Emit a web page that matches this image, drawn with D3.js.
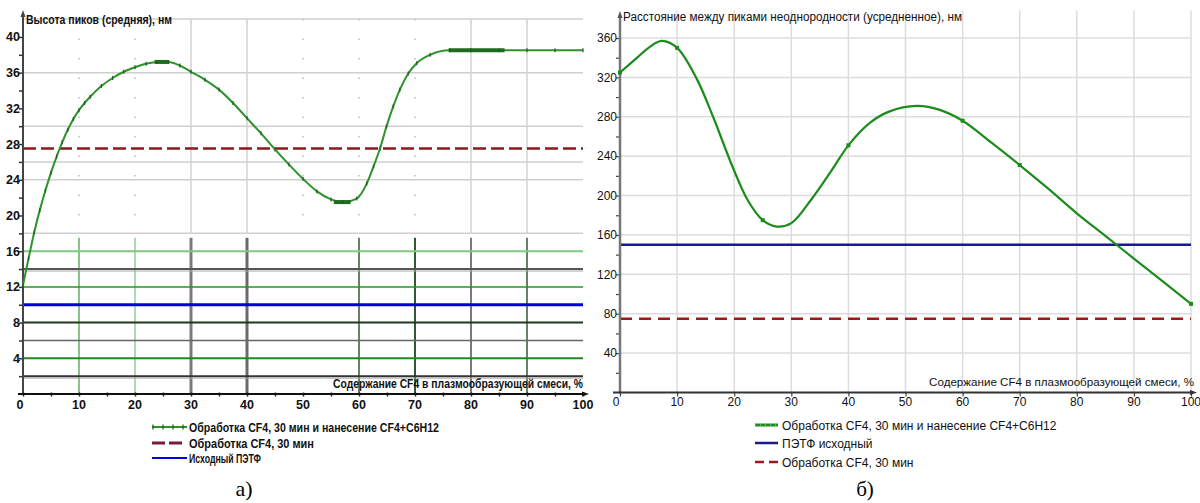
<!DOCTYPE html>
<html><head><meta charset="utf-8">
<script src="https://cdn.jsdelivr.net/npm/d3@7"></script>
<style>
html,body{margin:0;padding:0;background:#fff;}
svg{display:block;}
.ln{font-family:"Liberation Sans Narrow","Liberation Sans",Arial,sans-serif;font-weight:bold;}
.rn{font-family:"Liberation Sans",Arial,sans-serif;}
.cap{font-family:"Liberation Serif","Times New Roman",serif;}
</style></head>
<body>
<svg id="c" width="1200" height="503"></svg>
<script>
// ---------- DATA ----------
// Left chart (а): average peak height, nm
const leftX = [0,1,2,3,4,5,6,7,8,9,10,11,12,14,16,18,20,22,24,26,28,30,32.5,35,37.5,40,42.5,45,47.5,50,52.5,55,57.2,59.6,61.4,62.6,63.75,64.9,66.1,67.3,68.8,70.3,72.7,76.2,80,85,90,95,100];
const leftY = [12.2,15.2,18.1,20.6,22.8,24.8,26.6,28.2,29.6,30.8,31.8,32.6,33.3,34.5,35.4,36.1,36.6,37.0,37.2,37.2,36.8,36.1,35.2,34.1,32.6,30.9,29.2,27.4,25.7,24.1,22.7,21.8,21.5,21.9,23.6,25.5,27.5,29.95,32.2,34.1,35.9,37.05,38.0,38.5,38.5,38.5,38.5,38.5,38.5];
const leftThick = [[23.5,26],[55.5,58.5],[76,86]];
const leftDashed = 27.5;   // Обработка CF4, 30 мин
const leftBase = 10.0;     // Исходный ПЭТФ
const leftXTicks = [0,10,20,30,40,50,60,70,80,90,100];
const leftYTicks = [4,8,12,16,20,24,28,32,36,40];
const leftUpperGridY = [42,36,30,26,24,18];
const leftUpperGridX = [30,40,80,90];
const leftLowerGridX = [10,20,30,40,60,70,80,90];
const leftLowerGridY = [16,14,12,8,6,4,2];
const leftLegend = ["Обработка CF4, 30 мин и нанесение CF4+C6H12","Обработка CF4, 30 мин","Исходный ПЭТФ"];

// Right chart (б): average distance between peaks, nm
const rightX = [0,3,5,7.3,10,13.4,16.3,19.8,22.4,25,27.4,30,33.5,37,40,43.8,47,52,56,60,65,70,75,80,85,90,95,100];
const rightY = [325,340,350,357,350,319,280,228,195,175,168.5,172,196,225,251,274,285,291,287,276,254,231,207,182,159,136,113,90];
const rightMarkX = [0,10,25,40,60,70,100];
const rightBase = 150;     // ПЭТФ исходный
const rightDashed = 75;    // Обработка CF4, 30 мин
const rightXTicks = [0,10,20,30,40,50,60,70,80,90,100];
const rightYTicks = [40,80,120,160,200,240,280,320,360];
const rightLegend = ["Обработка CF4, 30 мин и нанесение CF4+C6H12","ПЭТФ исходный","Обработка CF4, 30 мин"];

const xTitle = "Содержание CF4 в плазмообразующей смеси, %";
const leftYTitle = "Высота пиков (средняя), нм";
const rightYTitle = "Расстояние между пиками неоднородности (усредненное), нм";

// ---------- DRAW ----------
const svg = d3.select("#c");

// ===== LEFT =====
{
  const x = d3.scaleLinear().domain([0,100]).range([23,583]);
  const y = d3.scaleLinear().domain([0,42]).range([394,19.1]);
  const g = svg.append("g");
  g.selectAll(".ugy").data(leftUpperGridY).join("line")
    .attr("x1",x(0)).attr("x2",x(100)).attr("y1",d=>y(d)).attr("y2",d=>y(d))
    .attr("stroke","#cfcfcf").attr("stroke-width",1.5);
  g.selectAll(".ugx").data(leftUpperGridX).join("line")
    .attr("x1",d=>x(d)).attr("x2",d=>x(d)).attr("y1",y(42)).attr("y2",y(18))
    .attr("stroke","#d2d2d2").attr("stroke-width",1.5);
  g.selectAll(".udot").data([10,20,50,60,70]).join("line")
    .attr("x1",d=>x(d)).attr("x2",d=>x(d)).attr("y1",y(42)).attr("y2",y(18))
    .attr("stroke","#bbb").attr("stroke-width",1.5).attr("stroke-dasharray","1.5,18");
  const vStyle = {10:["#3d9a3d",1.2],20:["#93cf93",1.5],30:["#7a7a7a",3],40:["#6a6a6a",3],60:["#2f5a2f",1.5],70:["#2f5a2f",2],80:["#7a7a7a",2],90:["#2f5a2f",1.5]};
  g.selectAll(".lgx").data(leftLowerGridX).join("line")
    .attr("x1",d=>x(d)).attr("x2",d=>x(d)).attr("y1",y(17.5)).attr("y2",y(0))
    .attr("stroke",d=>vStyle[d][0]).attr("stroke-width",d=>vStyle[d][1]);
  const hStyle = {16:["#7fc97f",2],14:["#555",2],12:["#229922",1.5],8:["#1e3a1e",2],6:["#666",1.5],4:["#228822",2],2:["#333",2]};
  g.selectAll(".lgy").data(leftLowerGridY).join("line")
    .attr("x1",x(0)).attr("x2",x(100)).attr("y1",d=>y(d)).attr("y2",d=>y(d))
    .attr("stroke",d=>hStyle[d][0]).attr("stroke-width",d=>hStyle[d][1]);
  g.selectAll(".lgy2").data([14,2]).join("line")
    .attr("x1",x(0)).attr("x2",x(100)).attr("y1",d=>y(d)+2).attr("y2",d=>y(d)+2)
    .attr("stroke","#aaa").attr("stroke-width",1);

  g.append("line").attr("x1",x(0)).attr("x2",x(100)).attr("y1",y(leftBase)).attr("y2",y(leftBase))
    .attr("stroke","#0000dd").attr("stroke-width",3);
  g.append("line").attr("x1",x(0)).attr("x2",x(100)).attr("y1",y(leftDashed)).attr("y2",y(leftDashed))
    .attr("stroke","#8b1a1a").attr("stroke-width",2.5).attr("stroke-dasharray","13,5");

  const yAx = d3.axisLeft(y).tickValues(d3.range(2,42,2)).tickSize(4).tickFormat("");
  g.append("g").attr("transform",`translate(${x(0)},0)`).call(yAx)
    .call(s=>s.select(".domain").remove())
    .call(s=>s.selectAll("line").attr("stroke","#333").attr("stroke-width",1.5));
  g.append("line").attr("x1",x(0)).attr("x2",x(0)).attr("y1",14).attr("y2",y(0))
    .attr("stroke","#444").attr("stroke-width",2);
  g.append("path").attr("d",`M${x(0)-2.5},${17} L${x(0)},${10} L${x(0)+2.5},${17}Z`).attr("fill","#444");
  const xAx = d3.axisBottom(x).tickValues(d3.range(0,101,5)).tickSize(4).tickFormat("");
  g.append("g").attr("transform",`translate(0,${y(0)-1.5})`).call(xAx)
    .call(s=>s.select(".domain").remove())
    .call(s=>s.selectAll("line").attr("stroke","#222").attr("stroke-width",1.5));
  g.append("line").attr("x1",18).attr("x2",586).attr("y1",y(0)).attr("y2",y(0))
    .attr("stroke","#111").attr("stroke-width",2);
  g.append("path").attr("d",`M${582},${y(0)-2.5} L${589},${y(0)} L${582},${y(0)+2.5}Z`).attr("fill","#111");

  g.selectAll(".xtl").data(leftXTicks).join("text").attr("class","ln")
    .attr("x",d=>d===0?x(d)-3:x(d)).attr("y",409).attr("text-anchor","middle")
    .attr("font-size",12.5).attr("fill","#111").text(d=>d);
  g.selectAll(".ytl").data(leftYTicks).join("text").attr("class","ln")
    .attr("x",20).attr("y",d=>y(d)+4.5).attr("text-anchor","end")
    .attr("font-size",12.5).attr("fill","#111").text(d=>d);

  g.append("text").attr("class","ln").attr("x",26).attr("y",24).attr("font-size",12)
    .attr("textLength",146).attr("lengthAdjust","spacingAndGlyphs").attr("fill","#111").text(leftYTitle);
  g.append("text").attr("class","ln").attr("x",333).attr("y",388).attr("font-size",12.5)
    .attr("textLength",250).attr("lengthAdjust","spacingAndGlyphs").attr("fill","#111").text(xTitle);

  const pts = leftX.map((v,i)=>[v,leftY[i]]);
  const line = d3.line().x(d=>x(d[0])).y(d=>y(d[1])).curve(d3.curveMonotoneX);
  g.append("path").attr("d",line(pts)).attr("fill","none").attr("stroke","#2f922f").attr("stroke-width",2);
  leftThick.forEach(([a,b])=>{
    const sub = pts.filter(p=>p[0]>=a&&p[0]<=b);
    g.append("path").attr("d",d3.line().x(d=>x(d[0])).y(d=>y(d[1])).curve(d3.curveMonotoneX)([[a,sub[0][1]],...sub,[b,sub[sub.length-1][1]]]))
     .attr("fill","none").attr("stroke","#1f6b1f").attr("stroke-width",4);
  });
  g.selectAll(".mk").data(pts).join("line")
    .attr("x1",d=>x(d[0])).attr("x2",d=>x(d[0])).attr("y1",d=>y(d[1])-2).attr("y2",d=>y(d[1])+2)
    .attr("stroke","#1f5f1f").attr("stroke-width",1.2);

  const L = svg.append("g");
  const ly = [427,443,458];
  L.append("line").attr("x1",152).attr("x2",187).attr("y1",ly[0]).attr("y2",ly[0]).attr("stroke","#2f922f").attr("stroke-width",2);
  L.selectAll(".lm").data([153,163,173,183]).join("line").attr("x1",d=>d).attr("x2",d=>d)
    .attr("y1",ly[0]-2.5).attr("y2",ly[0]+2.5).attr("stroke","#1f6b1f").attr("stroke-width",1.3);
  L.append("line").attr("x1",152).attr("x2",185).attr("y1",ly[1]).attr("y2",ly[1]).attr("stroke","#7a1a3a").attr("stroke-width",3).attr("stroke-dasharray","13,4");
  L.append("line").attr("x1",152).attr("x2",187).attr("y1",ly[2]).attr("y2",ly[2]).attr("stroke","#0000dd").attr("stroke-width",2);
  const lw = [250,125,72];
  L.selectAll(".lt").data(leftLegend).join("text").attr("class","ln")
    .attr("x",189).attr("y",(d,i)=>ly[i]+4.5).attr("font-size",12)
    .attr("textLength",(d,i)=>lw[i]).attr("lengthAdjust","spacingAndGlyphs").attr("fill","#111").text(d=>d);
  svg.append("text").attr("class","cap").attr("x",244).attr("y",496).attr("text-anchor","middle")
    .attr("font-size",22).attr("fill","#000").text("а)");
}

// ===== RIGHT =====
{
  const x = d3.scaleLinear().domain([0,100]).range([620,1191]);
  const y = d3.scaleLinear().domain([0,360]).range([392.5,38]);
  const g = svg.append("g");
  g.selectAll(".gx").data(rightXTicks.filter(d=>d>0)).join("line")
    .attr("x1",d=>x(d)).attr("x2",d=>x(d)).attr("y1",y(388)).attr("y2",y(0))
    .attr("stroke","#dcdcdc").attr("stroke-width",1.5);
  g.selectAll(".gy").data(rightYTicks).join("line")
    .attr("x1",x(0)).attr("x2",x(100)).attr("y1",d=>y(d)).attr("y2",d=>y(d))
    .attr("stroke","#dcdcdc").attr("stroke-width",1.5);

  g.append("line").attr("x1",x(0)).attr("x2",x(100)).attr("y1",y(rightBase)).attr("y2",y(rightBase))
    .attr("stroke","#1a1a8c").attr("stroke-width",2.5);
  g.append("line").attr("x1",x(0)).attr("x2",x(100)).attr("y1",y(rightDashed)).attr("y2",y(rightDashed))
    .attr("stroke","#a01818").attr("stroke-width",2.5).attr("stroke-dasharray","12,7");

  const yAx = d3.axisLeft(y).tickValues(d3.range(20,380,20)).tickSize(4).tickFormat("");
  g.append("g").attr("transform",`translate(${x(0)},0)`).call(yAx)
    .call(s=>s.select(".domain").remove())
    .call(s=>s.selectAll("line").attr("stroke","#444").attr("stroke-width",1.2));
  g.append("line").attr("x1",x(0)).attr("x2",x(0)).attr("y1",16).attr("y2",y(0)+1)
    .attr("stroke","#777").attr("stroke-width",2.5);
  g.append("path").attr("d",`M${x(0)-2.5},${18} L${x(0)},${11} L${x(0)+2.5},${18}Z`).attr("fill","#555");
  const xAx = d3.axisBottom(x).tickValues(rightXTicks).tickSize(4).tickFormat("");
  g.append("g").attr("transform",`translate(0,${y(0)})`).call(xAx)
    .call(s=>s.select(".domain").remove())
    .call(s=>s.selectAll("line").attr("stroke","#444").attr("stroke-width",1.2));
  g.append("line").attr("x1",613).attr("x2",1193).attr("y1",y(0)).attr("y2",y(0))
    .attr("stroke","#333").attr("stroke-width",2);
  g.append("path").attr("d",`M${1190},${y(0)-2.5} L${1197},${y(0)} L${1190},${y(0)+2.5}Z`).attr("fill","#333");

  g.selectAll(".xtl").data(rightXTicks).join("text").attr("class","rn")
    .attr("x",d=>d===0?x(d)-4:x(d)).attr("y",406).attr("text-anchor","middle")
    .attr("font-size",12).attr("fill","#111").text(d=>d);
  g.selectAll(".ytl").data(rightYTicks).join("text").attr("class","rn")
    .attr("x",617).attr("y",d=>y(d)+4.3).attr("text-anchor","end")
    .attr("font-size",12).attr("fill","#111").text(d=>d);

  g.append("text").attr("class","rn").attr("x",623).attr("y",21).attr("font-size",12)
    .attr("textLength",339).attr("lengthAdjust","spacingAndGlyphs").attr("fill","#111").text(rightYTitle);
  g.append("text").attr("class","rn").attr("x",1194).attr("y",386).attr("font-size",11.6)
    .attr("text-anchor","end").attr("fill","#111").text(xTitle);

  const pts = rightX.map((v,i)=>[v,rightY[i]]);
  const line = d3.line().x(d=>x(d[0])).y(d=>y(d[1])).curve(d3.curveCatmullRom.alpha(0.5));
  g.append("path").attr("d",line(pts)).attr("fill","none").attr("stroke","#1c8c1c").attr("stroke-width",2.2);
  const mk = rightMarkX.map(v=>pts.find(p=>p[0]===v)).filter(Boolean);
  g.selectAll(".mk").data(mk).join("rect")
    .attr("x",d=>x(d[0])-2).attr("y",d=>y(d[1])-2).attr("width",4).attr("height",4).attr("fill","#1c8c1c");

  const L = svg.append("g");
  const ly = [425,443,462];
  L.append("line").attr("x1",755).attr("x2",778).attr("y1",ly[0]).attr("y2",ly[0]).attr("stroke","#1c8c1c").attr("stroke-width",3);
  L.append("line").attr("x1",755).attr("x2",778).attr("y1",ly[0]).attr("y2",ly[0]).attr("stroke","#8fd08f").attr("stroke-width",1).attr("stroke-dasharray","1,4");
  L.append("line").attr("x1",755).attr("x2",778).attr("y1",ly[1]).attr("y2",ly[1]).attr("stroke","#1a1a8c").attr("stroke-width",2.5);
  L.append("line").attr("x1",755).attr("x2",778).attr("y1",ly[2]).attr("y2",ly[2]).attr("stroke","#a01818").attr("stroke-width",2.5).attr("stroke-dasharray","9,5");
  L.selectAll(".lt").data(rightLegend).join("text").attr("class","rn")
    .attr("x",782).attr("y",(d,i)=>ly[i]+4.5).attr("font-size",12).attr("fill","#111").text(d=>d);
  svg.append("text").attr("class","cap").attr("x",865).attr("y",496).attr("text-anchor","middle")
    .attr("font-size",21).attr("fill","#000").text("б)");
}
</script>
</body></html>
